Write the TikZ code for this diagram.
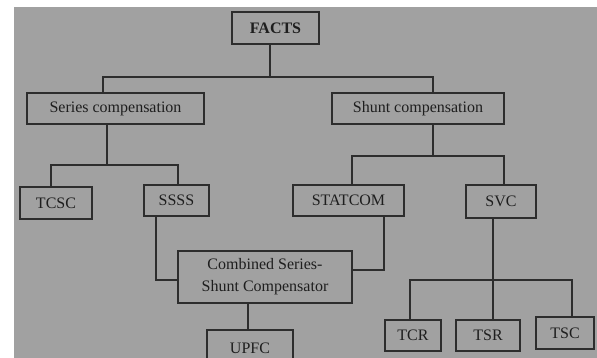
\documentclass[tikz,border=0pt]{standalone}
\usepackage{fontspec}
\setmainfont{Liberation Serif}
\definecolor{bggray}{RGB}{161,161,161}
\definecolor{linegray}{RGB}{45,45,45}
\definecolor{textgray}{RGB}{30,30,30}
\begin{document}
\begin{tikzpicture}[x=1pt, y=-1pt,
        box/.style={draw=linegray, line width=1.4pt, fill=bggray, text=textgray, inner sep=0pt, align=center, font=\fontsize{16}{22}\selectfont},
        wire/.style={draw=linegray, line width=1.6pt}]
        \clip (0,0) rectangle (597,358);
        \fill[white] (0,0) rectangle (597,358);
        \fill[bggray] (14,7) rectangle (597,358);

        \node[box, minimum width=87pt, minimum height=32pt, font=\fontsize{16}{22}\selectfont\bfseries] (facts) at (275.5,28) {FACTS};
        \node[box, minimum width=177pt, minimum height=31pt] (series) at (115.5,108.5) {Series compensation};
        \node[box, minimum width=172pt, minimum height=31pt] (shunt) at (418,108.5) {Shunt compensation};

        \node[box, minimum width=72pt, minimum height=32pt] (tcsc) at (56,203) {TCSC};
        \node[box, minimum width=65pt, minimum height=31pt] (ssss) at (176.5,200.5) {SSSS};
        \node[box, minimum width=111pt, minimum height=31pt] (statcom) at (348.5,200.5) {STATCOM};
        \node[box, minimum width=70pt, minimum height=33pt] (svc) at (501,201.5) {SVC};

        \node[box, minimum width=174pt, minimum height=52pt] (combined) at (265,277) {Combined Series-\\Shunt Compensator};
        \node[box, minimum width=86pt, minimum height=36pt] (upfc) at (250,348) {UPFC};

        \node[box, minimum width=56pt, minimum height=31pt] (tcr) at (413,335.5) {TCR};
        \node[box, minimum width=64pt, minimum height=31pt] (tsr) at (488,335.5) {TSR};
        \node[box, minimum width=58pt, minimum height=32pt] (tsc) at (565,333) {TSC};

        % junctions
        \coordinate (jF) at (270,77);
        \coordinate (jS) at (107,165);
        \coordinate (jH) at (433,156);
        \coordinate (jV) at (493,280);

        \draw[wire] ([xshift=-5.5pt]facts.south) -- (jF);
        \draw[wire] ([xshift=-12.5pt]series.north) |- (jF) -| ([xshift=15pt]shunt.north);

        \draw[wire] ([xshift=-8.5pt]series.south) -- (jS);
        \draw[wire] ([xshift=-5pt]tcsc.north) |- (jS) -| ([xshift=1.5pt]ssss.north);

        \draw[wire] ([xshift=15pt]shunt.south) -- (jH);
        \draw[wire] ([xshift=3.5pt]statcom.north) |- (jH) -| ([xshift=3pt]svc.north);

        \draw[wire] ([xshift=-20.5pt]ssss.south) |- ([yshift=-3pt]combined.west);
        \draw[wire] ([xshift=35.5pt]statcom.south) |- ([yshift=7pt]combined.east);
        \draw[wire] ([xshift=-17pt]combined.south) -- ([xshift=-2pt]upfc.north);

        \draw[wire] ([xshift=-8pt]svc.south) -- (jV);
        \draw[wire] ([xshift=-3pt]tcr.north) |- (jV) -| ([xshift=7pt]tsc.north);
        \draw[wire] (jV) -- ([xshift=5pt]tsr.north);
\end{tikzpicture}
\end{document}
